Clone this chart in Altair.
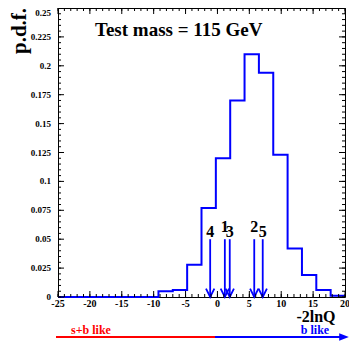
import altair as alt
import pandas as pd
import numpy as np

FONT = "Liberation Serif"
BLUE = "#0000ff"
RED = "#ff0000"

# ---- data ----
bin_lo = [-25, -22.75, -20.5, -18.25, -16, -13.75, -11.5, -9.25, -7, -4.75,
          -2.5, -0.25, 2, 4.25, 6.5, 8.75, 11, 13.25, 15.5, 17.75]
bin_hi_last = 20
pdf = [0, 0, 0, 0, 0, 0, 0, 0.005, 0.006, 0.028,
       0.077, 0.120, 0.170, 0.210, 0.194, 0.123, 0.042, 0.019, 0.006, 0.001]

arrow_labels = ["4", "1", "3", "2", "5"]
arrow_x = [-1.14, 1.16, 1.93, 5.77, 7.10]
arrow_top = [0.05, 0.05, 0.05, 0.05, 0.05]
raised_labels = ["1", "2"]

x_ticks = [-25, -20, -15, -10, -5, 0, 5, 10, 15, 20]
x_tick_labels = ["-25", "-20", "-15", "-10", "-5", "0", "5", "10", "15", "20"]
y_ticks = [0, 0.025, 0.05, 0.075, 0.1, 0.125, 0.15, 0.175, 0.2, 0.225, 0.25]
y_tick_labels = ["0", "0.025", "0.05", "0.075", "0.1", "0.125", "0.15",
                 "0.175", "0.2", "0.225", "0.25"]
x_minor = [float(v) for v in np.arange(-25, 20.001, 1.0)]
y_minor = [round(float(v), 3) for v in np.arange(0, 0.2501, 0.005)]

title_text = "Test mass = 115 GeV"
y_title = "p.d.f."
x_title = "-2lnQ"
left_note = "s+b like"
right_note = "b like"

W, H = 287, 289

X = alt.Scale(domain=[-25, 20], nice=False, zero=False)
Y = alt.Scale(domain=[0, 0.25], nice=False, zero=False)

hist_df = pd.DataFrame({"x": bin_lo + [bin_hi_last], "y": pdf + [pdf[-1]]})
arrows_df = pd.DataFrame({"label": arrow_labels, "x": arrow_x, "top": arrow_top})
xlab_df = pd.DataFrame({"v": x_ticks, "t": x_tick_labels})
ylab_df = pd.DataFrame({"v": y_ticks, "t": y_tick_labels})
xmin_df = pd.DataFrame({"v": x_minor, "t": ["" for _ in x_minor]})
ymin_df = pd.DataFrame({"v": y_minor, "t": ["" for _ in y_minor]})
one = alt.Data(values=[{"k": 0}])

hist = alt.Chart(hist_df).mark_line(
    interpolate="step-after", color=BLUE, strokeWidth=2
).encode(
    x=alt.X("x:Q", scale=X, axis=None),
    y=alt.Y("y:Q", scale=Y, axis=None),
)

# tick labels drawn as text through the scales
xlabels = alt.Chart(xlab_df).mark_text(
    font=FONT, fontWeight="bold", fontSize=10, align="center", baseline="middle",
    color="black"
).encode(x=alt.X("v:Q", scale=X, axis=None), y=alt.value(H + 7), text="t:N")

ylabels = alt.Chart(ylab_df).transform_filter("datum.v < 0.249").mark_text(
    font=FONT, fontWeight="bold", fontSize=9, align="right", baseline="middle",
    color="black"
).encode(y=alt.Y("v:Q", scale=Y, axis=None), x=alt.value(-7), text="t:N")

ytop = alt.Chart(ylab_df).transform_filter("datum.v >= 0.249").mark_text(
    font=FONT, fontWeight="bold", fontSize=9, align="right", baseline="top",
    dy=1, color="black"
).encode(y=alt.Y("v:Q", scale=Y, axis=None), x=alt.value(-7), text="t:N")

arrow_lines = alt.Chart(arrows_df).mark_rule(color=BLUE, strokeWidth=1.8).encode(
    x=alt.X("x:Q", scale=X, axis=None),
    y=alt.Y("top:Q", scale=Y, axis=None),
    y2=alt.value(H),
)
arrow_heads = alt.Chart(arrows_df).mark_point(
    shape="M-1,-2L0,0L1,-2", size=70, filled=False, color=BLUE,
    strokeWidth=1.8, opacity=1
).encode(
    x=alt.X("x:Q", scale=X, axis=None),
    y=alt.value(H),
)
labels_low = alt.Chart(arrows_df).transform_filter(
    {"not": alt.FieldOneOfPredicate(field="label", oneOf=raised_labels)}
).mark_text(font=FONT, fontWeight="bold", fontSize=16, baseline="alphabetic",
            dy=-2, color="black").encode(
    x=alt.X("x:Q", scale=X, axis=None),
    y=alt.Y("top:Q", scale=Y, axis=None),
    text="label:N",
)
labels_high = alt.Chart(arrows_df).transform_filter(
    alt.FieldOneOfPredicate(field="label", oneOf=raised_labels)
).mark_text(font=FONT, fontWeight="bold", fontSize=16, baseline="alphabetic",
            dy=-7, color="black").encode(
    x=alt.X("x:Q", scale=X, axis=None),
    y=alt.Y("top:Q", scale=Y, axis=None),
    text="label:N",
)


def yticks(df, length):
    left = alt.Chart(df).mark_rule(color="#000000", strokeWidth=1).encode(
        y=alt.Y("v:Q", scale=Y, axis=None), x=alt.value(0), x2=alt.value(length))
    right = alt.Chart(df).mark_rule(color="#000000", strokeWidth=1).encode(
        y=alt.Y("v:Q", scale=Y, axis=None), x=alt.value(W - length), x2=alt.value(W))
    return [left, right]


def xticks(df, length):
    bottom = alt.Chart(df).mark_rule(color="#000000", strokeWidth=1).encode(
        x=alt.X("v:Q", scale=X, axis=None), y=alt.value(H - length), y2=alt.value(H))
    top = alt.Chart(df).mark_rule(color="#000000", strokeWidth=1).encode(
        x=alt.X("v:Q", scale=X, axis=None), y=alt.value(0), y2=alt.value(length))
    return [bottom, top]


tick_layers = (yticks(ylab_df, 6) + yticks(ymin_df, 3)
               + xticks(xlab_df, 6) + xticks(xmin_df, 3))

title = alt.Chart(one).mark_text(
    text=title_text, font=FONT, fontWeight="bold", fontSize=19,
    align="left", baseline="middle", color="black"
).encode(x=alt.value(37), y=alt.value(22))

ytitle = alt.Chart(one).mark_text(
    text=y_title, font=FONT, fontWeight="bold", fontSize=21, angle=270,
    align="center", baseline="middle", color="black"
).encode(x=alt.value(-38), y=alt.value(23))

xtitle = alt.Chart(one).mark_text(
    text=x_title, font=FONT, fontWeight="bold", fontSize=16,
    align="center", baseline="middle", color="black"
).encode(x=alt.value(258), y=alt.value(309))

note_l = alt.Chart(one).mark_text(
    text=left_note, font=FONT, fontWeight="bold", fontSize=12,
    align="center", baseline="middle", color=RED
).encode(x=alt.value(33), y=alt.value(322))

note_r = alt.Chart(one).mark_text(
    text=right_note, font=FONT, fontWeight="bold", fontSize=12,
    align="center", baseline="middle", color=BLUE
).encode(x=alt.value(257), y=alt.value(322))

red_line = alt.Chart(one).mark_rule(color=RED, strokeWidth=2).encode(
    x=alt.value(-2), x2=alt.value(157), y=alt.value(329))
blue_line = alt.Chart(one).mark_rule(color=BLUE, strokeWidth=2).encode(
    x=alt.value(157), x2=alt.value(283), y=alt.value(329))
blue_head = alt.Chart(one).mark_point(
    shape="M-1.3,-1L1.3,0L-1.3,1Z", size=55, filled=True, color=BLUE, opacity=1
).encode(x=alt.value(286), y=alt.value(329))

chart = alt.layer(
    hist, xlabels, ylabels, ytop, arrow_lines, arrow_heads,
    labels_low, labels_high, title, ytitle, xtitle, note_l, note_r,
    red_line, blue_line, blue_head, *tick_layers
).properties(
    width=W, height=H,
    padding={"left": 50, "top": 0, "right": 4, "bottom": 44},
    autosize=alt.AutoSizeParams(type="none"),
).configure_view(stroke="black", strokeWidth=1)

chart.save("out.html", embed_options={"renderer": "svg", "actions": False})
